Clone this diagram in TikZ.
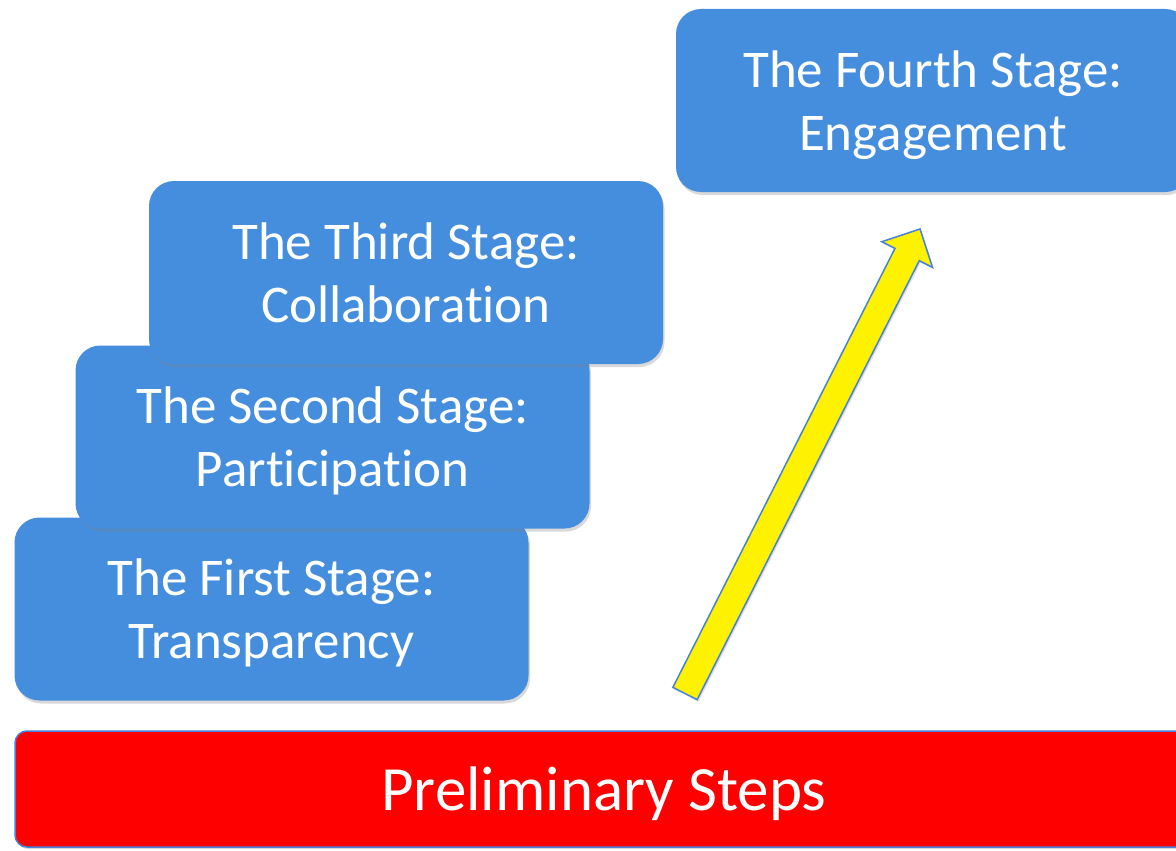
\documentclass[tikz,border=0pt]{standalone}
\usepackage{fontspec}
\setmainfont{Carlito}[Ligatures=NoCommon]
\usetikzlibrary{shadows}
\definecolor{stageblue}{RGB}{69,142,222}
\definecolor{edgeblue}{RGB}{70,130,215}
\tikzset{
    stage/.style={fill=stageblue, rounded corners=25pt, minimum width=514pt, minimum height=183pt,
        inner sep=0pt, outer sep=0pt, text=white, align=center, text depth=0pt, font=\fontsize{53}{63}\selectfont,
        drop shadow={opacity=0.3, shadow xshift=1.5pt, shadow yshift=-3pt}},
    prelim/.style={fill=red, draw=edgeblue, line width=1.5pt, rounded corners=12pt, minimum width=1178pt,
        minimum height=116pt, inner sep=0pt, text=white, text depth=0pt, font=\fontsize{63}{70}\selectfont,
        drop shadow={opacity=0.3, shadow xshift=1pt, shadow yshift=-2pt}},
    uparrow/.style={fill=yellow, draw=edgeblue, line width=1.5pt,
        drop shadow={opacity=0.25, shadow xshift=1.5pt, shadow yshift=-2pt}}
}
\begin{document}
\begin{tikzpicture}[x=1pt,y=-1pt]
    \useasboundingbox (0,0) rectangle (1176,851);
    \clip (0,0) rectangle (1176,851);
    \node[stage] (first) at (271.5,609) {The First Stage:\\Transparency};
    \node[stage] (second) at (332.5,437) {The Second Stage:\\Participation};
    \node[stage] (third) at (406,272.5) {The Third Stage:\\Collaboration};
    \node[stage] (fourth) at (933,100.5) {The Fourth Stage:\\Engagement};
    \node[prelim] (prelim) at (604,789) {Preliminary Steps};
    % the big yellow arrow
    \coordinate (tail) at (685,693.5);
    \coordinate (tip) at (920,229);
    \begin{scope}[shift={(tail)}, rotate=63.16]
        \draw[uparrow] (0,13.6) -- (492,13.6) -- (492,28.4) -- (520.6,0) -- (492,-28.4) -- (492,-13.6) -- (0,-13.6) -- cycle;
    \end{scope}
\end{tikzpicture}
\end{document}
